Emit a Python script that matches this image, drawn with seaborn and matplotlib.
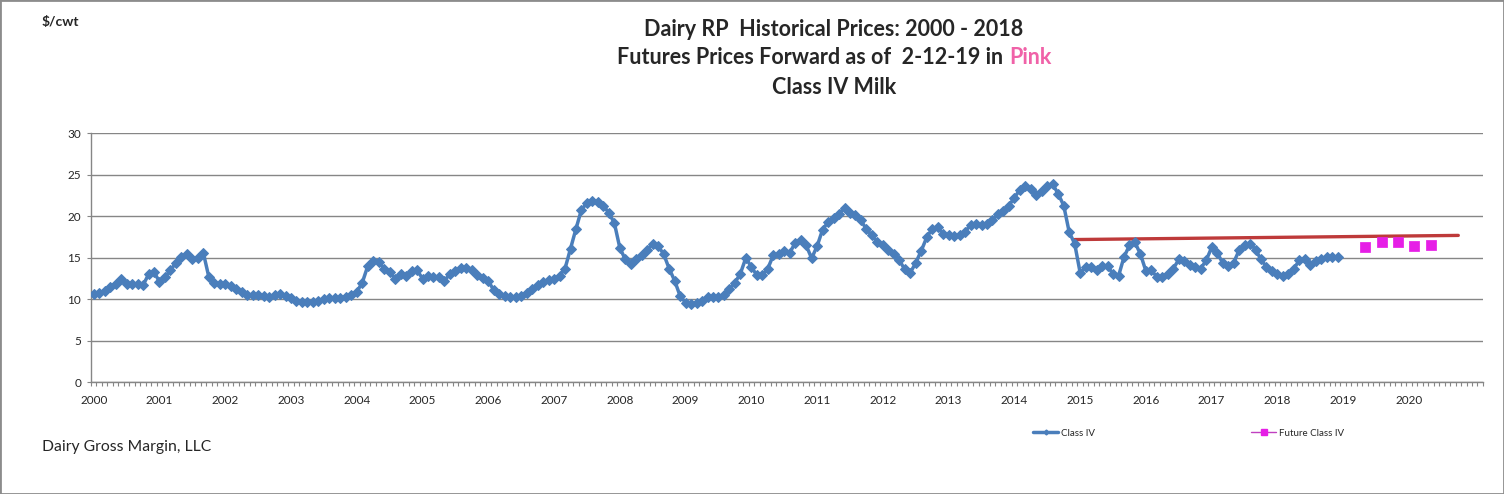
# Dairy RP - Class IV milk historical prices with futures forward

import numpy as np
import pandas as pd
import seaborn as sns
import matplotlib.pyplot as plt
from matplotlib.lines import Line2D
from matplotlib.patches import Rectangle

# --- Data ---
start_month = "2000-01"
last_month = "2021-02"   # axis runs one category per month up to here

# monthly Class IV price, $/cwt, Jan 2000 - Dec 2018
class_iv = [
    10.7, 10.8, 11.0, 11.5, 11.9, 12.4, 11.9, 11.85, 11.85, 11.7, 13.0, 13.3,     # 2000
    12.1, 12.7, 13.5, 14.4, 15.1, 15.4, 14.8, 15.0, 15.6, 12.7, 12.0, 11.85,     # 2001
    11.9, 11.6, 11.3, 10.9, 10.5, 10.5, 10.5, 10.4, 10.25, 10.55, 10.6, 10.4,    # 2002
    10.1, 9.8, 9.7, 9.7, 9.7, 9.75, 10.05, 10.15, 10.15, 10.15, 10.3, 10.5,      # 2003
    10.9, 12.0, 14.0, 14.6, 14.55, 13.7, 13.3, 12.5, 13.0, 12.8, 13.4, 13.5,     # 2004
    12.5, 12.75, 12.7, 12.65, 12.2, 13.1, 13.45, 13.75, 13.8, 13.5, 12.9, 12.6,  # 2005
    12.2, 11.1, 10.65, 10.4, 10.3, 10.3, 10.4, 10.8, 11.25, 11.7, 12.1, 12.3,    # 2006
    12.5, 12.8, 13.7, 16.1, 18.5, 20.8, 21.6, 21.9, 21.7, 21.3, 20.4, 19.2,      # 2007
    16.2, 14.8, 14.25, 14.8, 15.3, 16.0, 16.65, 16.4, 15.45, 13.7, 12.25, 10.4,  # 2008
    9.6, 9.45, 9.6, 9.85, 10.25, 10.3, 10.25, 10.5, 11.2, 12.0, 13.1, 15.0,      # 2009
    13.9, 12.9, 12.9, 13.7, 15.3, 15.45, 15.85, 15.6, 16.8, 17.2, 16.5, 14.95,   # 2010
    16.4, 18.4, 19.3, 19.85, 20.3, 21.05, 20.45, 20.1, 19.5, 18.45, 17.7, 16.9,  # 2011
    16.5, 15.9, 15.45, 14.7, 13.6, 13.2, 14.4, 15.85, 17.45, 18.5, 18.7, 17.85,  # 2012
    17.7, 17.6, 17.7, 18.1, 19.0, 19.05, 18.9, 19.1, 19.5, 20.3, 20.6, 21.3,     # 2013
    22.25, 23.2, 23.7, 23.3, 22.6, 23.1, 23.65, 23.85, 22.7, 21.3, 18.1, 16.7,   # 2014
    13.2, 13.85, 13.9, 13.5, 14.0, 14.0, 13.05, 12.8, 15.1, 16.5, 16.85, 15.45,  # 2015
    13.4, 13.5, 12.7, 12.65, 13.05, 13.7, 14.8, 14.65, 14.1, 13.85, 13.7, 14.7,  # 2016
    16.25, 15.6, 14.4, 14.0, 14.4, 15.9, 16.5, 16.7, 16.0, 14.8, 13.9, 13.45,    # 2017
    13.1, 12.85, 13.0, 13.7, 14.7, 14.9, 14.1, 14.65, 14.8, 15.05, 15.05, 15.05, # 2018
]

# futures prices forward as of 2-12-19 (pink squares)
future_months = ["2019-05", "2019-08", "2019-11", "2020-02", "2020-05"]
future_class_iv = [16.35, 16.9, 16.9, 16.45, 16.5]

# red reference line (start / end)
ref_months = ["2014-12", "2020-10"]
ref_values = [17.2, 17.7]

year_labels = [str(y) for y in range(2000, 2021)]
y_ticks = [0, 5, 10, 15, 20, 25, 30]
# ------------------------------------------


def month_pos(m):
    # category position of a month on the axis
    return (pd.Period(m, "M") - pd.Period(start_month, "M")).n


n_months = month_pos(last_month) + 1

hist = pd.DataFrame({"pos": np.arange(len(class_iv)), "price": class_iv})
fut = pd.DataFrame({"pos": [month_pos(m) for m in future_months], "price": future_class_iv})
ref = pd.DataFrame({"pos": [month_pos(m) for m in ref_months], "price": ref_values})

sns.set_style("white")
plt.rcParams["font.family"] = ["Lato", "DejaVu Sans"]

blue = "#4A7EBB"
red = "#BE3A3A"
magenta = "#E61EE6"
pink = "#F062A8"
grey = "#868686"

fig = plt.figure(figsize=(15.04, 4.94), dpi=100)
ax = fig.add_axes([0.0605, 0.2261, 0.9255, 0.504])

sns.lineplot(data=hist, x="pos", y="price", ax=ax, color=blue, lw=2.5,
             marker="D", markersize=5.5, markeredgecolor=blue, zorder=3)
sns.lineplot(data=ref, x="pos", y="price", ax=ax, color=red, lw=2.4, zorder=2)
sns.scatterplot(data=fut, x="pos", y="price", ax=ax, color=magenta, marker="s",
                s=42, edgecolor=magenta, zorder=4)

# axes look like the Excel original
ax.set_xlim(-0.5, n_months - 0.5)
ax.set_ylim(0, 30)
ax.set_yticks(y_ticks)
ax.set_xticks(np.arange(0, 12 * len(year_labels), 12))
ax.set_xticklabels(year_labels)
ax.set_xticks(np.arange(-0.5, n_months, 1), minor=True)
ax.set_xlabel("")
ax.set_ylabel("")
ax.yaxis.grid(True, color=grey, lw=1)
ax.set_axisbelow(True)
for side in ["top", "right"]:
    ax.spines[side].set_visible(False)
for side in ["left", "bottom"]:
    ax.spines[side].set_color(grey)
    ax.spines[side].set_linewidth(1)
ax.tick_params(axis="y", length=3, color=grey, pad=4, labelsize=8.5, left=True)
ax.tick_params(axis="x", which="major", length=0, pad=9, labelsize=8.5)
ax.tick_params(axis="x", which="minor", length=3, color=grey, width=0.8, bottom=True)

# titles
W, H = 1504, 494
cx = 834 / W
fs_title = 15.5
fig.text(cx, 1 - 30 / H, "Dairy RP  Historical Prices: 2000 - 2018", ha="center",
         va="center", fontsize=fs_title, fontweight="bold")
fig.text(cx, 1 - 87 / H, "Class IV Milk", ha="center", va="center", fontsize=fs_title,
         fontweight="bold")
t1 = fig.text(0, 1 - 58 / H, "Futures Prices Forward as of  2-12-19 in", ha="left",
              va="center", fontsize=fs_title, fontweight="bold")
t2 = fig.text(0, 1 - 58 / H, "Pink", ha="left", va="center", fontsize=fs_title,
              fontweight="bold", color=pink)
fig.canvas.draw()
r = fig.canvas.get_renderer()
w1 = t1.get_window_extent(r).width
w2 = t2.get_window_extent(r).width
gap = 0.3 * fs_title * 100 / 72
x0 = 834 - (w1 + gap + w2) / 2
t1.set_x(x0 / W)
t2.set_x((x0 + w1 + gap) / W)

fig.text(42 / W, 1 - 22 / H, "$/cwt", ha="left", va="center", fontsize=10,
         fontweight="bold")
fig.text(42 / W, 1 - 447 / H, "Dairy Gross Margin, LLC", ha="left", va="center",
         fontsize=11.3)

# legends (two separate entries like the original)
h1 = Line2D([], [], color=blue, lw=2.5, marker="D", markersize=2.5)
h2 = Line2D([], [], color="#C040C0", lw=1, marker="s", markersize=4,
            markerfacecolor=magenta, markeredgecolor=magenta)
for h, lab, xl in [(h1, "Class IV", 1033), (h2, "Future Class IV", 1251)]:
    fig.legend(handles=[h], labels=[lab], loc="center left",
               bbox_to_anchor=(xl / W, 1 - 433 / H), frameon=False,
               fontsize=7, handlelength=2.6, handletextpad=0.25, borderpad=0,
               borderaxespad=0)

# outer border
fig.patches.append(Rectangle((0, 0), 1, 1, transform=fig.transFigure, fill=False,
                             edgecolor="#8C8C8C", lw=2))

fig.savefig("out.png", dpi=100)
